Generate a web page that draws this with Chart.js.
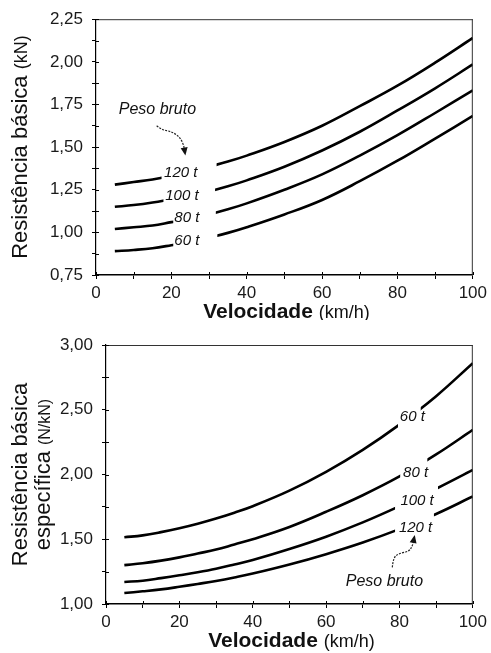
<!DOCTYPE html>
<html>
<head>
<meta charset="utf-8">
<script src="https://cdn.jsdelivr.net/npm/chart.js@4.4.0/dist/chart.umd.min.js"></script>
<style>
	body { margin: 0; background: #fff; }
	canvas { display: block; }
</style>
</head>
<body>
<canvas id="grafTopo" width="491" height="320"></canvas>
<canvas id="grafBaixo" width="491" height="333"></canvas>
<script>
// dados
const velocidade = [5, 10, 15, 20, 25, 30, 35, 40, 50, 60, 70, 80, 90, 100];
const pesos = ['120 t', '100 t', '80 t', '60 t'];

// resistencia basica (kN)
const resist120 = [1.28, 1.295, 1.31, 1.33, 1.355, 1.385, 1.415, 1.45, 1.53, 1.625, 1.74, 1.86, 1.995, 2.14];
const resist100 = [1.15, 1.16, 1.175, 1.195, 1.215, 1.24, 1.27, 1.305, 1.385, 1.48, 1.59, 1.715, 1.845, 1.985];
const resist80 = [1.02, 1.03, 1.04, 1.06, 1.08, 1.105, 1.135, 1.17, 1.25, 1.34, 1.45, 1.57, 1.70, 1.833];
const resist60 = [0.89, 0.897, 0.907, 0.925, 0.945, 0.97, 0.997, 1.03, 1.105, 1.19, 1.30, 1.42, 1.55, 1.683];

// resistencia basica especifica (N/kN)
const espec120 = [1.085, 1.098, 1.113, 1.133, 1.155, 1.178, 1.205, 1.235, 1.305, 1.385, 1.475, 1.578, 1.695, 1.83];
const espec100 = [1.17, 1.18, 1.20, 1.222, 1.245, 1.272, 1.305, 1.34, 1.425, 1.52, 1.63, 1.755, 1.89, 2.035];
const espec80 = [1.30, 1.315, 1.335, 1.36, 1.39, 1.42, 1.46, 1.50, 1.595, 1.712, 1.84, 1.985, 2.155, 2.345];
const espec60 = [1.515, 1.53, 1.555, 1.585, 1.62, 1.66, 1.705, 1.755, 1.875, 2.02, 2.19, 2.385, 2.605, 2.86];

const xTicksLabel = [0, 20, 40, 60, 80, 100];

// onde cada curva é interrompida para o rótulo (km/h)
const cortesTopo = [[17.4, 32.0], [17.9, 31.6], [20.5, 31.8], [20.5, 32.2]];
const cortesBaixo = [[78.8, 89.4], [78.8, 90.5], [80.2, 87.6], [79.6, 85.8]];

// posição dos rótulos (km/h, valor)
const rotulosTopo = [[22.5, 1.352], [22.8, 1.215], [24.1, 1.083], [24.1, 0.952]];
const rotulosBaixo = [[84.4, 1.585], [84.8, 1.795], [84.4, 2.014], [83.5, 2.442]];

const FONTE = '"Liberation Sans", Arial, sans-serif';

function serie(valores) {
	return velocidade.map((v, i) => ({ x: v, y: valores[i] }));
}

function fmt(v) {
	return v.toFixed(2).replace('.', ',');
}

function textoMisto(ctx, partes, cx, cy) {
	let total = 0;
	partes.forEach(p => { ctx.font = p.f; p.w = ctx.measureText(p.t).width; total += p.w; });
	let x = cx - total / 2;
	ctx.textAlign = 'left';
	ctx.textBaseline = 'alphabetic';
	partes.forEach(p => { ctx.font = p.f; ctx.fillText(p.t, x, cy); x += p.w; });
}

function seta(ctx, pts) {
	ctx.save();
	ctx.strokeStyle = '#222';
	ctx.lineWidth = 1.2;
	ctx.setLineDash([2, 1.2]);
	ctx.beginPath();
	ctx.moveTo(pts[0][0], pts[0][1]);
	for (let i = 1; i < pts.length - 1; i++) {
		const mx = (pts[i][0] + pts[i + 1][0]) / 2, my = (pts[i][1] + pts[i + 1][1]) / 2;
		ctx.quadraticCurveTo(pts[i][0], pts[i][1], mx, my);
	}
	const n = pts.length;
	ctx.lineTo(pts[n - 1][0], pts[n - 1][1]);
	ctx.stroke();
	ctx.setLineDash([]);
	// ponta
	const a = pts[n - 2], b = pts[n - 1];
	const ang = Math.atan2(b[1] - a[1], b[0] - a[0]);
	ctx.fillStyle = '#111';
	ctx.beginPath();
	ctx.moveTo(b[0] + Math.cos(ang) * 3, b[1] + Math.sin(ang) * 3);
	ctx.lineTo(b[0] - Math.cos(ang) * 5 + Math.sin(ang) * 3.5, b[1] - Math.sin(ang) * 5 - Math.cos(ang) * 3.5);
	ctx.lineTo(b[0] - Math.cos(ang) * 5 - Math.sin(ang) * 3.5, b[1] - Math.sin(ang) * 5 + Math.cos(ang) * 3.5);
	ctx.closePath();
	ctx.fill();
	ctx.restore();
}

function criarPlugin(cfg) {
	return {
		id: 'extras',
		beforeDatasetDraw(chart, args) {
			const ctx = chart.ctx;
			ctx.save();
			const c = cfg.cortes[args.index];
			const a = chart.scales.x.getPixelForValue(c[0]);
			const b = chart.scales.x.getPixelForValue(c[1]);
			ctx.beginPath();
			ctx.rect(0, 0, a, chart.height);
			ctx.rect(b, 0, chart.width - b, chart.height);
			ctx.clip();
		},
		afterDatasetDraw(chart) {
			chart.ctx.restore();
		},
		afterDraw(chart) {
			const ctx = chart.ctx;
			const area = chart.chartArea;
			const sx = chart.scales.x, sy = chart.scales.y;
			ctx.save();
			// moldura
			ctx.strokeStyle = '#333';
			ctx.lineWidth = 1;
			ctx.beginPath();
			ctx.moveTo(area.left, area.top + 0.5);
			ctx.lineTo(area.right, area.top + 0.5);
			ctx.moveTo(area.right - 0.5, area.top);
			ctx.lineTo(area.right - 0.5, area.bottom);
			ctx.stroke();
			// marcas internas
			ctx.strokeStyle = '#000';
			ctx.beginPath();
			sy.ticks.forEach(t => {
				const y = Math.round(sy.getPixelForValue(t.value)) + 0.5;
				ctx.moveTo(area.left, y); ctx.lineTo(area.left + 3, y);
			});
			sx.ticks.forEach(t => {
				const x = Math.round(sx.getPixelForValue(t.value)) + 0.5;
				ctx.moveTo(x, area.bottom); ctx.lineTo(x, area.bottom - 3);
			});
			ctx.stroke();

			// rótulos das curvas
			ctx.fillStyle = '#111';
			ctx.font = 'italic 15px ' + FONTE;
			ctx.textAlign = 'center';
			ctx.textBaseline = 'middle';
			cfg.rotulos.forEach((r, i) => {
				ctx.fillText(pesos[i], sx.getPixelForValue(r[0]), sy.getPixelForValue(r[1]));
			});
			ctx.font = 'italic 16px ' + FONTE;
			ctx.fillText('Peso bruto', sx.getPixelForValue(cfg.peso[0]), sy.getPixelForValue(cfg.peso[1]));
			seta(ctx, cfg.seta.map(p => [sx.getPixelForValue(p[0]), sy.getPixelForValue(p[1])]));

			// título eixo x
			ctx.fillStyle = '#111';
			textoMisto(ctx, [
				{ t: 'Velocidade ', f: 'bold 21px ' + FONTE },
				{ t: '(km/h)', f: '18px ' + FONTE }
			], (area.left + area.right) / 2 + 2, area.bottom + 43);

			// título eixo y
			const cy = (area.top + area.bottom) / 2;
			cfg.tituloY.forEach(linha => {
				ctx.save();
				ctx.translate(linha.x, cy);
				ctx.rotate(-Math.PI / 2);
				textoMisto(ctx, linha.partes, 0, 7.5);
				ctx.restore();
			});
			ctx.restore();
		}
	};
}

function criarGrafico(id, dados, ymin, ymax, passo, principal, pad, cfg) {
	const ctx = document.getElementById(id).getContext('2d');
	return new Chart(ctx, {
		type: 'line',
		data: {
			datasets: dados.map((d, i) => ({
				label: pesos[i],
				data: serie(d),
				borderColor: '#000',
				borderWidth: 2.6,
				pointRadius: 0,
				fill: false,
				tension: 0.4
			}))
		},
		options: {
			responsive: false,
			animation: false,
			layout: { padding: pad },
			plugins: { legend: { display: false }, tooltip: { enabled: false } },
			scales: {
				x: {
					type: 'linear',
					min: 0, max: 100,
					afterFit: s => { s.height = 30; },
					border: { color: '#000', width: 1.6 },
					grid: { drawOnChartArea: false, tickLength: 4, color: '#000' },
					ticks: {
						stepSize: 10, autoSkip: false, maxRotation: 0, padding: 4,
						color: '#1a1a1a', font: { family: FONTE, size: 17 },
						callback: v => xTicksLabel.includes(v) ? String(v) : ''
					}
				},
				y: {
					min: ymin, max: ymax,
					afterFit: s => { s.width = 60; },
					border: { color: '#000', width: 1.2 },
					grid: { drawOnChartArea: false, tickLength: 4, color: '#000' },
					ticks: {
						stepSize: passo, autoSkip: false, padding: 9,
						color: '#1a1a1a', font: { family: FONTE, size: 17 },
						callback: v => Math.abs(v / principal - Math.round(v / principal)) < 1e-6 ? fmt(v) : ''
					}
				}
			}
		},
		plugins: [criarPlugin(cfg)]
	});
}

criarGrafico('grafTopo', [resist120, resist100, resist80, resist60], 0.75, 2.25, 0.125, 0.25,
	{ left: 36, right: 18, top: 15, bottom: 15 },
	{
		cortes: cortesTopo,
		rotulos: rotulosTopo,
		peso: [16.3, 1.721],
		seta: [[16.1, 1.625], [17.4, 1.602], [20.1, 1.591], [22.3, 1.558], [23.3, 1.510], [23.6, 1.468]],
		tituloY: [{ x: 19, partes: [
			{ t: 'Resistência básica ', f: '22px ' + FONTE },
			{ t: '(kN)', f: '18px ' + FONTE }
		] }]
	});

criarGrafico('grafBaixo', [espec120, espec100, espec80, espec60], 1.0, 3.0, 0.25, 0.5,
	{ left: 46, right: 16, top: 25, bottom: 19 },
	{
		cortes: cortesBaixo,
		rotulos: rotulosBaixo,
		peso: [75.9, 1.172],
		seta: [[78.05, 1.283], [78.3, 1.361], [80.1, 1.392], [82.4, 1.404], [83.5, 1.442], [84.0, 1.51]],
		tituloY: [
			{ x: 19, partes: [{ t: 'Resistência básica', f: '22px ' + FONTE }] },
			{ x: 42, partes: [
				{ t: 'específica ', f: '22px ' + FONTE },
				{ t: '(N/kN)', f: '16px ' + FONTE }
			] }
		]
	});
</script>
</body>
</html>
